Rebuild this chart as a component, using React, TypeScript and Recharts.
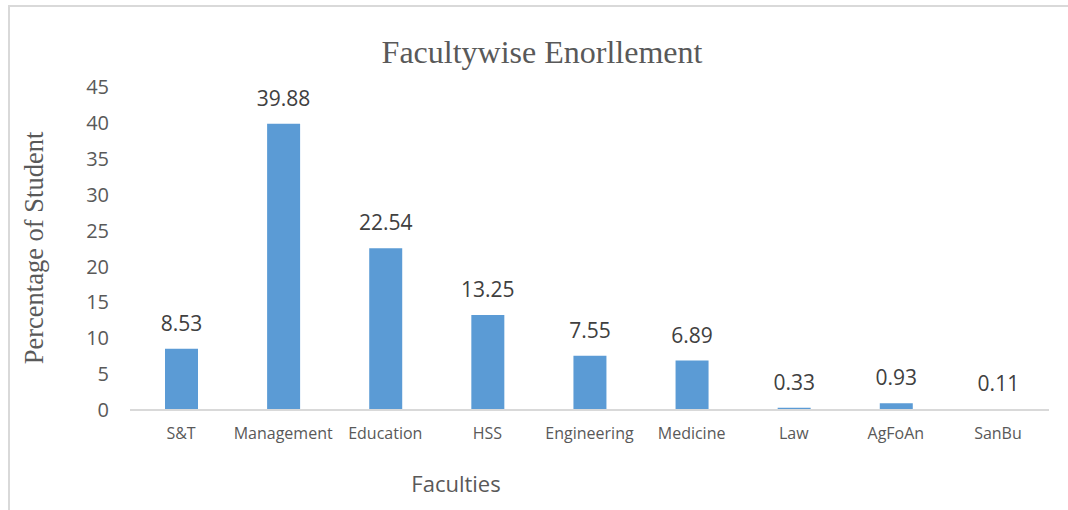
import React from "react";
import { BarChart, Bar, XAxis, YAxis, LabelList } from "recharts";

const faculties = ["S&T", "Management", "Education", "HSS", "Engineering", "Medicine", "Law", "AgFoAn", "SanBu"];
const percentages = [8.53, 39.88, 22.54, 13.25, 7.55, 6.89, 0.33, 0.93, 0.11];
const yTicks = [0, 5, 10, 15, 20, 25, 30, 35, 40, 45];

const chartTitle = "Facultywise Enorllement";
const yAxisTitle = "Percentage of Student";
const xAxisTitle = "Faculties";

const data = faculties.map((name, i) => ({ name, value: percentages[i] }));

const sans = "'Open Sans', sans-serif";
const serif = "'Liberation Serif', 'Times New Roman', serif";
const textGray = "#595959";

export default function App() {
  return (
    <div style={{ position: "absolute", left: 0, top: 0, width: 1068, height: 510, background: "#fff", overflow: "hidden" }}>
      {/* outer chart frame, only top and left edges show in the crop */}
      <div
        style={{
          position: "absolute",
          left: 8,
          top: 5,
          width: 1080,
          height: 600,
          borderTop: "2px solid #d9d9d9",
          borderLeft: "2px solid #d9d9d9",
        }}
      />
      <div
        style={{
          position: "absolute",
          left: 0,
          width: 1068,
          top: 32,
          textAlign: "center",
          fontFamily: serif,
          fontSize: 32,
          color: textGray,
          lineHeight: "40px",
          paddingLeft: 16,
          boxSizing: "border-box",
        }}
      >
        {chartTitle}
      </div>
      <div
        style={{
          position: "absolute",
          left: 34,
          top: 248,
          transform: "translate(-50%, -50%) rotate(-90deg)",
          fontFamily: serif,
          fontSize: 26.5,
          color: textGray,
          whiteSpace: "nowrap",
          lineHeight: "30px",
        }}
      >
        {yAxisTitle}
      </div>
      <div
        style={{
          position: "absolute",
          left: 456,
          top: 483,
          transform: "translate(-50%, -50%)",
          fontFamily: sans,
          fontSize: 22,
          color: textGray,
          whiteSpace: "nowrap",
          lineHeight: "28px",
        }}
      >
        {xAxisTitle}
      </div>
      <div style={{ position: "absolute", left: 0, top: 0 }}>
        <BarChart width={1068} height={510} data={data} margin={{ top: 87, right: 19, bottom: 70, left: 0 }}>
          <XAxis
            dataKey="name"
            height={30}
            axisLine={{ stroke: "#d9d9d9", strokeWidth: 2 }}
            tickLine={false}
            tickMargin={12}
            interval={0}
            tick={{ fontSize: 16, fill: textGray, fontFamily: sans }}
          />
          <YAxis
            width={130}
            domain={[0, 45]}
            ticks={yTicks}
            axisLine={false}
            tickLine={false}
            tickMargin={15}
            tick={{ fontSize: 20, fill: textGray, fontFamily: sans }}
          />
          <Bar dataKey="value" fill="#5b9bd5" barSize={33} isAnimationActive={false}>
            <LabelList
              dataKey="value"
              position="top"
              offset={18}
              fill="#404040"
              fontSize={21}
              fontFamily={sans}
            />
          </Bar>
        </BarChart>
      </div>
    </div>
  );
}
